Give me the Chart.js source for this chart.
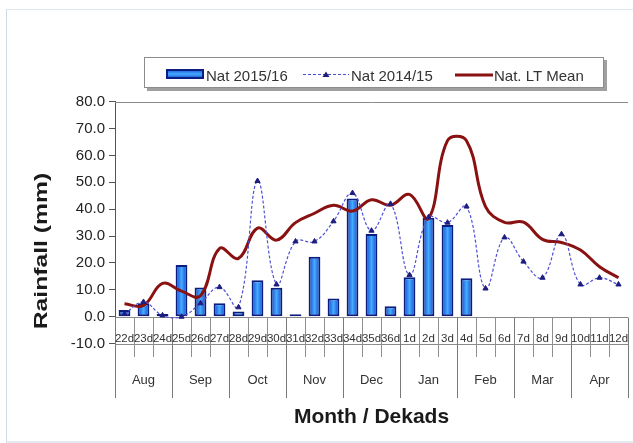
<!DOCTYPE html>
<html>
<head>
<meta charset="utf-8">
<script src="https://cdn.jsdelivr.net/npm/chart.js@4.4.0/dist/chart.umd.min.js"></script>
<style>
html,body{margin:0;padding:0;background:#fff;}
#wrap{position:relative;width:633px;height:443px;overflow:hidden;background:#fff;}
#frame{position:absolute;left:6px;top:9px;width:640px;height:431px;border-left:1px solid #cfdae6;border-top:1px solid #dfe7ef;border-bottom:2px solid #e3eaf2;}
canvas{display:block;position:absolute;left:0;top:0;}
</style>
</head>
<body>
<div id="wrap"><div id="frame"></div><canvas id="c" width="633" height="443"></canvas></div>
<script>
// ---- data ----
const dekads = ['22d','23d','24d','25d','26d','27d','28d','29d','30d','31d','32d','33d','34d','35d','36d',
                '1d','2d','3d','4d','5d','6d','7d','8d','9d','10d','11d','12d'];
const months = ['Aug','Sep','Oct','Nov','Dec','Jan','Feb','Mar','Apr'];
const nat2015 = [2.5,5.0,1.0,19.2,10.9,5.0,1.9,13.6,10.8,0.9,22.3,6.8,44.0,30.8,3.9,14.7,36.8,34.1,14.3,
                 null,null,null,null,null,null,null,null];
const nat2014 = [1.0,5.5,0.5,0.0,5.0,11.0,3.5,50.5,12.0,28.0,28.0,35.5,46.0,32.0,42.0,
                 15.5,37.0,35.0,41.0,10.5,29.5,20.5,14.5,30.7,12.0,14.5,12.0];
const ltMean  = [4.8,4.2,12.4,9.5,7.8,25.4,21.7,33.0,28.5,35.0,38.5,41.5,39.3,43.5,41.5,
                 45.5,36.6,65.5,65.5,41.0,35.1,35.2,28.8,27.6,24.8,18.6,14.5];
const yTicksMin = -10, yTicksMax = 80, yStep = 10;
const seriesNames = ['Nat 2015/16','Nat 2014/15','Nat. LT Mean'];

const FAM = '"Liberation Sans", Arial, Helvetica, sans-serif';

function barFill(c){
  const ch = c.chart;
  if (!ch.chartArea || c.type !== 'data') return '#1b74e6';
  const xs = ch.scales.x;
  const cx = xs.getPixelForValue(c.dataIndex);
  const hw = (xs.width / dekads.length) * 0.31;
  const g = ch.ctx.createLinearGradient(cx - hw, 0, cx + hw, 0);
  g.addColorStop(0, '#0c45cc');
  g.addColorStop(0.5, '#46aaff');
  g.addColorStop(1, '#0c45cc');
  return g;
}

function hline(ctx, x1, x2, y){ ctx.beginPath(); ctx.moveTo(x1, y); ctx.lineTo(x2, y); ctx.stroke(); }
function vline(ctx, x, y1, y2){ ctx.beginPath(); ctx.moveTo(x, y1); ctx.lineTo(x, y2); ctx.stroke(); }

const decor = {
  id: 'decor',
  beforeDatasetsDraw(chart){
    const {ctx, chartArea:a, scales:{x, y}} = chart;
    const y0 = Math.round(y.getPixelForValue(0)) + 0.5;
    const yb = Math.round(y.getPixelForValue(-10)) + 0.5;
    const n = dekads.length;
    const step = x.width / n;
    ctx.save();
    ctx.lineWidth = 1;
    ctx.strokeStyle = '#8a8a8a';
    hline(ctx, a.left, a.right, Math.round(a.top) + 0.5);
    hline(ctx, a.left, a.right, y0);
    hline(ctx, a.left, a.right, yb);
    for (let i = 0; i <= n; i++){
      const px = Math.round(x.left + i * step) + 0.5;
      const isMonth = i % 3 === 0;
      ctx.strokeStyle = isMonth ? '#7a7a7a' : '#8f8f8f';
      vline(ctx, px, y0, isMonth ? 398 : 357);
    }
    ctx.restore();
  },
  afterDraw(chart){
    const {ctx, chartArea:a, scales:{x, y}} = chart;
    const n = dekads.length;
    const step = x.width / n;
    ctx.save();
    // dekad labels
    ctx.fillStyle = '#333';
    ctx.font = '11.5px ' + FAM;
    ctx.textAlign = 'center';
    ctx.textBaseline = 'middle';
    dekads.forEach((d, i) => ctx.fillText(d, x.getPixelForValue(i), 338.5));
    // month labels
    ctx.font = '13px ' + FAM;
    months.forEach((m, j) => {
      const cx = x.left + (j * 3 + 1.5) * step;
      ctx.fillText(m, cx, 380);
    });
    // x title
    ctx.fillStyle = '#1a1a1a';
    ctx.font = 'bold 21px ' + FAM;
    ctx.textBaseline = 'alphabetic';
    ctx.fillText('Month / Dekads', (a.left + a.right) / 2, 423);
    // y title (rotated, stretched along reading direction)
    ctx.save();
    ctx.translate(41.5, 251);
    ctx.rotate(-Math.PI / 2);
    ctx.scale(1.3, 1);
    ctx.font = 'bold 19px ' + FAM;
    ctx.textBaseline = 'middle';
    ctx.fillText('Rainfall (mm)', 0, 0);
    ctx.restore();

    // legend box
    ctx.fillStyle = '#a0a0a0';
    ctx.fillRect(147, 60, 460, 31);
    ctx.fillStyle = '#ffffff';
    ctx.fillRect(144, 57, 460, 31);
    ctx.strokeStyle = '#8c8c8c';
    ctx.lineWidth = 1;
    ctx.strokeRect(144.5, 57.5, 459, 30);
    // bar swatch
    const g = ctx.createLinearGradient(0, 69, 0, 79);
    g.addColorStop(0, '#0c45cc'); g.addColorStop(0.5, '#46aaff'); g.addColorStop(1, '#0c45cc');
    ctx.fillStyle = g;
    ctx.fillRect(166, 69, 38, 10);
    ctx.strokeStyle = '#0b1d7e';
    ctx.lineWidth = 2;
    ctx.strokeRect(167, 70, 36, 8);
    // dotted swatch
    ctx.strokeStyle = '#4f4fd6';
    ctx.lineWidth = 1.2;
    ctx.setLineDash([3, 2]);
    hline(ctx, 303, 349, 74.5);
    ctx.setLineDash([]);
    ctx.fillStyle = '#1d1d80';
    ctx.beginPath();
    ctx.moveTo(326, 71.5); ctx.lineTo(329.5, 77); ctx.lineTo(322.5, 77); ctx.closePath(); ctx.fill();
    // red swatch
    ctx.strokeStyle = '#8a1111';
    ctx.lineWidth = 3;
    hline(ctx, 455, 493, 75);
    // legend text
    ctx.fillStyle = '#333';
    ctx.font = '15px ' + FAM;
    ctx.textAlign = 'left';
    ctx.textBaseline = 'alphabetic';
    ctx.fillText(seriesNames[0], 206, 80.5);
    ctx.fillText(seriesNames[1], 351, 80.5);
    ctx.fillText(seriesNames[2], 494, 80.5);
    ctx.restore();
  }
};

new Chart(document.getElementById('c'), {
  type: 'bar',
  data: {
    labels: dekads,
    datasets: [
      {
        type: 'line', label: seriesNames[1], data: nat2014,
        borderColor: '#4f4fd6', borderWidth: 1.2, borderDash: [3, 2], tension: 0.4,
        pointStyle: 'triangle', pointRadius: 3, pointBackgroundColor: '#1d1d80',
        pointBorderColor: '#1d1d80', pointBorderWidth: 1, fill: false, order: 1
      },
      {
        type: 'line', label: seriesNames[2], data: ltMean,
        borderColor: '#8a1111', borderWidth: 3, tension: 0.4, pointRadius: 0,
        fill: false, order: 2
      },
      {
        type: 'bar', label: seriesNames[0], data: nat2015,
        backgroundColor: barFill, borderColor: '#0b1d7e', borderWidth: 2, borderSkipped: false,
        categoryPercentage: 1, barPercentage: 0.62, order: 3
      }
    ]
  },
  options: {
    responsive: false,
    animation: false,
    devicePixelRatio: 1,
    layout: { padding: { left: 0, top: 101.7, right: 0, bottom: 99.4 } },
    plugins: { legend: { display: false }, tooltip: { enabled: false } },
    scales: {
      x: { display: false, offset: true },
      y: {
        min: yTicksMin, max: yTicksMax,
        ticks: { stepSize: yStep, callback: v => Number(v).toFixed(1), color: '#222', padding: 4,
                 font: { size: 15, family: FAM } },
        grid: { drawOnChartArea: false, tickLength: 6, color: '#555' },
        border: { color: '#555' },
        afterFit(s){ s.width = 115; }
      }
    }
  },
  plugins: [decor]
});
</script>
</body>
</html>
